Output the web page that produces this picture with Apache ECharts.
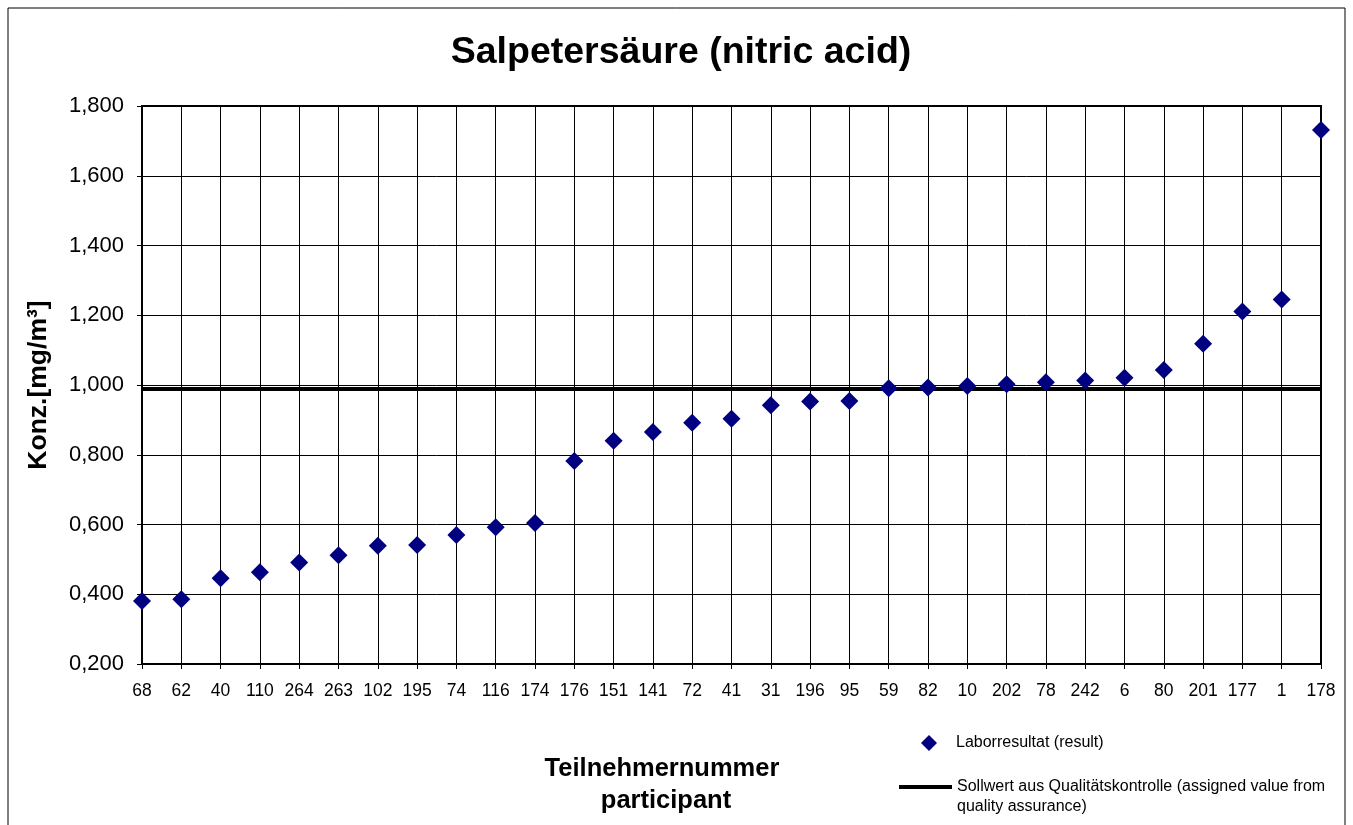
<!DOCTYPE html>
<html>
<head>
<meta charset="utf-8">
<script src="https://cdn.jsdelivr.net/npm/echarts@6/dist/echarts.min.js"></script>
<style>
html,body{margin:0;padding:0;background:#fff;}
#chart{width:1353px;height:825px;}
</style>
</head>
<body>
<div id="chart"></div>
<script>
const participants = ['68','62','40','110','264','263','102','195','74','116','174','176','151','141','72','41','31','196','95','59','82','10','202','78','242','6','80','201','177','1','178'];
const results = [0.381,0.386,0.446,0.463,0.491,0.512,0.539,0.541,0.570,0.592,0.604,0.782,0.840,0.865,0.892,0.903,0.942,0.953,0.954,0.991,0.993,0.997,1.002,1.008,1.013,1.021,1.043,1.118,1.211,1.245,1.731];
const assignedValue = 0.986;
const yTicks = {min: 0.2, max: 1.8, interval: 0.2};

const chart = echarts.init(document.getElementById('chart'));
const font = 'Arial, "Liberation Sans", sans-serif';
chart.setOption({
  backgroundColor: '#fff',
  animation: false,
  textStyle: {fontFamily: font},
  title: {
    text: 'Salpetersäure (nitric acid)',
    left: 676, top: 29, textAlign: 'center',
    textStyle: {fontSize: 37.5, fontWeight: 'bold', color: '#000', fontFamily: font}
  },
  grid: {left: 142, right: 32, top: 106, bottom: 161, show: true, borderColor: '#000', borderWidth: 2, backgroundColor: 'transparent'},
  xAxis: {
    type: 'category', data: participants, boundaryGap: false,
    axisLine: {lineStyle: {color: '#000', width: 2}},
    axisTick: {show: true, length: 5, lineStyle: {color: '#000'}},
    axisLabel: {color: '#000', fontSize: 17.5, margin: 18, fontFamily: font, interval: 0},
    splitLine: {show: true, lineStyle: {color: '#000', width: 1}}
  },
  yAxis: {
    type: 'value', min: yTicks.min, max: yTicks.max, interval: yTicks.interval,
    name: 'Konz.[mg/m³]', nameLocation: 'middle', nameGap: 90,
    nameTextStyle: {fontSize: 26.5, fontWeight: 'bold', color: '#000', fontFamily: font},
    axisLine: {show: true, lineStyle: {color: '#000', width: 2}},
    axisTick: {show: true, length: 5, lineStyle: {color: '#000'}},
    axisLabel: {color: '#000', fontSize: 22, margin: 18, fontFamily: font,
      formatter: v => v.toFixed(3).replace('.', ',')},
    splitLine: {show: true, lineStyle: {color: '#000', width: 1}}
  },
  legend: [
    {data: ['Laborresultat (result)'], left: 921, top: 735, padding: 0, itemWidth: 16, itemHeight: 16,
      formatter: n => '{s|}' + n,
      textStyle: {fontSize: 16, color: '#000', fontFamily: font, rich: {s: {width: 14}}}},
    {data: [{name: 'Sollwert', icon: 'rect'}], left: 899, top: 779, padding: 0, itemWidth: 53, itemHeight: 4,
      formatter: () => 'Sollwert aus Qualitätskontrolle (assigned value from',
      textStyle: {fontSize: 16, color: '#000', fontFamily: font}}
  ],
  graphic: [
    {type: 'rect', shape: {x: 8, y: 8, width: 1337, height: 830}, style: {fill: 'none', stroke: '#000', lineWidth: 1}, silent: true, z: -1},
    {type: 'text', style: {text: 'quality assurance)', x: 957, y: 807, textVerticalAlign: 'middle', font: '16px ' + font, fill: '#000'}},
    {type: 'text', style: {text: 'Teilnehmernummer', x: 662, y: 769, textAlign: 'center', textVerticalAlign: 'middle', font: 'bold 25.5px ' + font, fill: '#000'}},
    {type: 'text', style: {text: 'participant', x: 666, y: 801, textAlign: 'center', textVerticalAlign: 'middle', font: 'bold 25.5px ' + font, fill: '#000'}}
  ],
  series: [
    {name: 'Laborresultat (result)', type: 'scatter', data: results, symbol: 'diamond', symbolSize: 18,
      itemStyle: {color: '#000080', opacity: 1}, clip: false, z: 5},
    {name: 'Sollwert', type: 'line', data: [], itemStyle: {color: '#000'}, lineStyle: {color: '#000', width: 4},
      markLine: {silent: true, symbol: 'none', label: {show: false},
        lineStyle: {color: '#000', width: 4, type: 'solid'},
        data: [{yAxis: assignedValue}]}, z: 3}
  ]
});
</script>
</body>
</html>
